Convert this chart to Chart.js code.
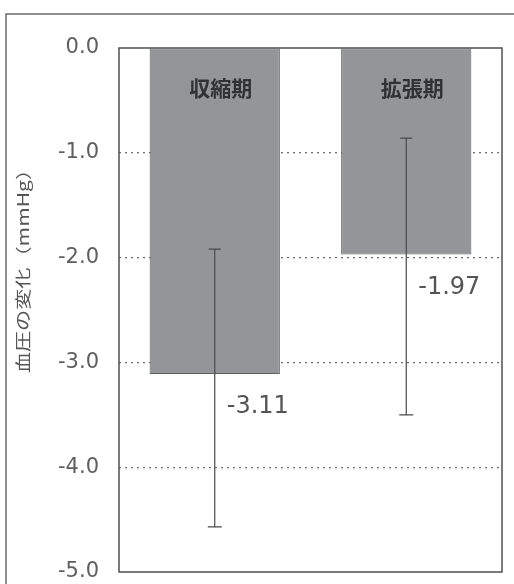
<!DOCTYPE html>
<html>
<head>
<meta charset="utf-8">
<script src="https://cdn.jsdelivr.net/npm/chart.js@4/dist/chart.umd.min.js"></script>
<style>
  html, body { margin: 0; padding: 0; background: #ffffff; }
  #wrap { width: 514px; height: 584px; position: relative; }
</style>
</head>
<body>
<div id="wrap"><canvas id="c" width="514" height="584"></canvas></div>
<script>
// Blood pressure change (mean and interval) by phase
const categories = ['収縮期', '拡張期'];
const meanChange = [-3.11, -1.97];
const intervalUpper = [-1.92, -0.86];
const intervalLower = [-4.57, -3.50];
const yTicks = [0, -1, -2, -3, -4, -5];
const yTitle = '血圧の変化（mmHg）';

const INK = '#555555';

// Frame around the figure, plot box, whiskers and text annotations
const decorations = {
  id: 'decorations',
  afterDatasetsDraw(chart) {
    const { ctx, chartArea: a, scales: { x, y } } = chart;
    ctx.save();

    // outer figure frame (top and left edges)
    ctx.strokeStyle = '#6a6a6a';
    ctx.lineWidth = 1.5;
    ctx.beginPath();
    ctx.moveTo(514, 14);
    ctx.lineTo(6, 14);
    ctx.lineTo(6, 584);
    ctx.stroke();

    // plot box
    ctx.strokeStyle = '#505050';
    ctx.lineWidth = 1.5;
    ctx.strokeRect(a.left, a.top, a.right - a.left, a.bottom - a.top);

    // whiskers
    ctx.strokeStyle = '#4a4a4a';
    ctx.lineWidth = 1.2;
    categories.forEach((c, i) => {
      const cx = x.getPixelForValue(i);
      const yt = y.getPixelForValue(intervalUpper[i]);
      const yb = y.getPixelForValue(intervalLower[i]);
      ctx.beginPath();
      ctx.moveTo(cx, yt); ctx.lineTo(cx, yb);
      ctx.moveTo(cx - 6, yt); ctx.lineTo(cx + 6, yt);
      ctx.moveTo(cx - 7, yb); ctx.lineTo(cx + 7, yb);
      ctx.stroke();
    });

    // phase names inside the bars
    ctx.fillStyle = '#2f3336';
    ctx.font = 'bold 21px "Noto Sans CJK JP"';
    ctx.textAlign = 'center';
    ctx.textBaseline = 'middle';
    categories.forEach((c, i) => {
      ctx.fillText(c, x.getPixelForValue(i) + 6, y.getPixelForValue(0) + 40);
    });

    // mean values below the bars
    ctx.fillStyle = INK;
    ctx.font = '24px "DejaVu Sans"';
    ctx.textAlign = 'left';
    meanChange.forEach((v, i) => {
      ctx.fillText(v.toFixed(2), x.getPixelForValue(i) + 12, y.getPixelForValue(v) + 33);
    });

    // vertical axis title, slightly stretched along its baseline
    ctx.translate(23, 266);
    ctx.rotate(-Math.PI / 2);
    ctx.scale(1.32, 1);
    ctx.fillStyle = INK;
    ctx.font = '16px "Noto Sans CJK JP"';
    ctx.textAlign = 'center';
    ctx.textBaseline = 'middle';
    ctx.fillText(yTitle, 0, 0);

    ctx.restore();
  }
};

new Chart(document.getElementById('c'), {
  type: 'bar',
  data: {
    labels: categories,
    datasets: [{
      data: meanChange,
      backgroundColor: '#939599',
      borderColor: '#5c5e60',
      borderWidth: 1,
      borderSkipped: false,
      categoryPercentage: 0.68,
      barPercentage: 1.0
    }]
  },
  options: {
    responsive: false,
    animation: false,
    devicePixelRatio: 1,
    layout: { padding: { top: 48, right: 12, bottom: 12, left: 0 } },
    plugins: { legend: { display: false }, tooltip: { enabled: false } },
    scales: {
      x: { display: false },
      y: {
        min: -5,
        max: 0,
        afterBuildTicks(scale) { scale.ticks = yTicks.map(v => ({ value: v })); },
        afterFit(scale) {
          scale.width = 119;
          scale.paddingTop = 0;
          scale.paddingBottom = 0;
        },
        ticks: {
          callback: v => v.toFixed(1),
          color: '#5e5e5e',
          font: { family: 'DejaVu Sans', size: 21 },
          padding: 20
        },
        grid: {
          drawTicks: false,
          lineWidth: 1.2,
          color: c => (c.tick && (c.tick.value === 0 || c.tick.value === -5)) ? 'rgba(0,0,0,0)' : '#6e6e6e'
        },
        border: { display: false, dash: [2, 4] }
      }
    }
  },
  plugins: [decorations]
});
</script>
</body>
</html>
